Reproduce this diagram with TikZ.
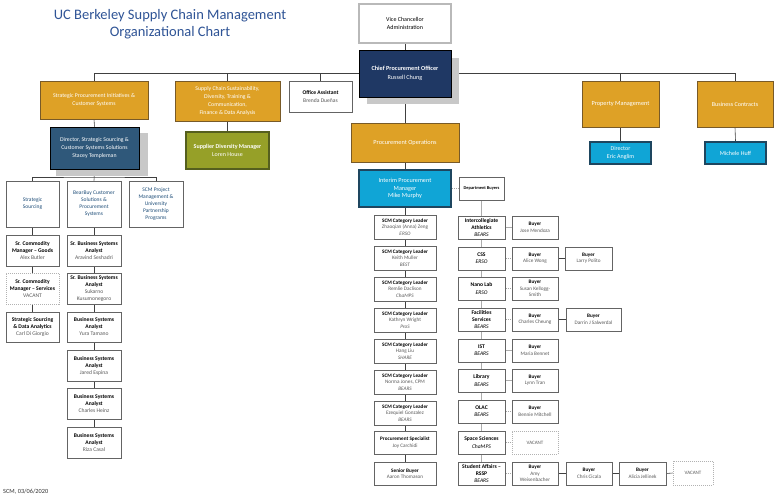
\documentclass[tikz,border=0pt]{standalone}
\usepackage{fontspec}
\setmainfont{Carlito}
\usetikzlibrary{backgrounds}
\definecolor{orangeF}{RGB}{222,161,38}
\definecolor{orangeD}{RGB}{120,90,40}
\definecolor{navyF}{RGB}{31,56,100}
\definecolor{steelF}{RGB}{47,88,122}
\definecolor{lblueF}{RGB}{16,165,214}
\definecolor{lblueD}{RGB}{30,70,95}
\definecolor{oliveF}{RGB}{150,160,40}
\definecolor{oliveD}{RGB}{85,95,30}
\definecolor{titleC}{RGB}{47,84,150}
\definecolor{tealT}{RGB}{31,78,121}
\definecolor{lineC}{RGB}{64,64,64}
\definecolor{boxD}{RGB}{100,100,100}
\definecolor{nameC}{RGB}{89,89,89}
\definecolor{shadowC}{RGB}{200,200,200}
\newcommand\bx[7]{\node[#6, minimum width={(#4-#2)*1pt}, minimum height={(#5-#3)*1pt}] (#1) at ({(#2+#4)/2},{(#3+#5)/2}) {#7};}
\newcommand\nm[1]{{\color{nameC}#1}}
\begin{document}
\begin{tikzpicture}[x=1pt,y=-1pt,
  base/.style={rectangle, inner sep=0pt, align=center},
  wbox/.style={base, draw=boxD, line width=0.7pt, fill=white, text=black, font=\fontsize{5.2}{6.4}\selectfont},
  vbox/.style={base, draw=gray!55, line width=1.6pt, fill=white, text=black, font=\fontsize{6}{8}\selectfont},
  obox/.style={base, draw=orangeD, line width=0.8pt, fill=orangeF, text=white, font=\fontsize{5.8}{8}\selectfont},
  nbox/.style={base, draw=black, line width=0.8pt, fill=navyF, text=white, font=\fontsize{6.2}{8.3}\selectfont},
  sbox/.style={base, draw=black, line width=0.8pt, fill=steelF, text=white, font=\fontsize{5.8}{7.6}\selectfont},
  lbox/.style={base, draw=lblueD, line width=1.6pt, fill=lblueF, text=white, font=\fontsize{6.2}{7.8}\selectfont},
  gbox/.style={base, draw=oliveD, line width=1.2pt, fill=oliveF, text=white, font=\fontsize{6}{8}\selectfont},
  tbox/.style={wbox, text=tealT, font=\fontsize{5.5}{7}\selectfont},
  lcbox/.style={wbox, font=\fontsize{5.6}{7}\selectfont},
  dbox/.style={wbox, font=\fontsize{5.6}{7.2}\selectfont},
  vacbox/.style={base, draw=gray!60, line width=0.7pt, dash pattern=on 1pt off 1pt, fill=white, text=nameC, font=\fontsize{5}{6.4}\selectfont},
  cline/.style={draw=lineC, line width=0.6pt},
  gline/.style={draw=gray!65, line width=0.6pt},
  dline/.style={draw=gray!70, line width=0.6pt, dash pattern=on 1.2pt off 1pt}]
\begin{scope}[on background layer]
\fill[white] (0,0) rectangle (775,500);
\end{scope}
\useasboundingbox (0,0) rectangle (775,500);
% title
\node[text=titleC, font=\fontsize{14.5}{17}\selectfont, align=center] (title) at (170,24) {UC Berkeley Supply Chain Management\\Organizational Chart};
\node[anchor=west, font=\fontsize{6.3}{7}\selectfont, text=black!80, inner sep=0pt] (foot) at (3,492) {SCM, 03/06/2020};
% top
\bx{vc}{359}{4}{451}{43}{vbox}{Vice Chancellor\\Administration}
\fill[shadowC] (367,58) rectangle (459,104);
\bx{cpo}{359}{50}{451}{97}{nbox}{\textbf{Chief Procurement Officer}\\Russell Chung}
\bx{spi}{40}{81}{148}{119}{obox}{Strategic Procurement Initiatives \&\\Customer Systems}
\bx{scs}{175}{81}{280}{121}{obox}{Supply Chain Sustainability,\\Diversity, Training \&\\Communication,\\Finance \& Data Analysis}
\bx{oa}{289}{81}{352}{112}{wbox,font=\fontsize{5.6}{7.4}\selectfont}{\textbf{Office Assistant}\\\nm{Brenda Dueñas}}
\bx{pm}{582}{81}{659}{127}{obox,font=\fontsize{6.3}{8}\selectfont}{Property Management}
\bx{bc}{697}{81}{773}{127}{obox,font=\fontsize{6.1}{8}\selectfont}{Business Contracts}
\bx{dea}{590}{142}{651}{164}{lbox,font=\fontsize{6}{7.4}\selectfont}{Director\\Eric Anglim}
\bx{mh}{705}{142}{766}{164}{lbox,font=\fontsize{6}{7.4}\selectfont}{Michele Huff}
\bx{po}{351}{123}{459}{162}{obox,font=\fontsize{6.3}{8}\selectfont}{Procurement Operations}
\bx{im}{359}{170}{451}{207}{lbox}{Interim Procurement\\Manager\\Mike Murphy}
\bx{db}{459}{177}{504}{200}{wbox,font=\fontsize{4.4}{5}\selectfont\bfseries}{Department Buyers}
% left branch
\fill[shadowC] (56,133) rectangle (148,176);
\bx{dir}{50}{127}{139}{169}{sbox}{Director, Strategic Sourcing \&\\Customer Systems Solutions\\Stacey Templeman}
\bx{sdm}{186}{132}{269}{169}{gbox}{\textbf{Supplier Diversity Manager}\\Loren House}
\bx{ss}{6}{181}{59}{227}{tbox}{Strategic\\Sourcing}
\bx{bb}{67}{181}{121}{227}{tbox}{BearBuy Customer\\Solutions \&\\Procurement\\Systems}
\bx{sp}{129}{181}{183}{227}{tbox}{SCM Project\\Management \&\\University\\Partnership\\Programs}
\bx{g1}{6}{235}{59}{266}{lcbox}{\textbf{Sr. Commodity}\\\textbf{Manager – Goods}\\\nm{Alex Butler}}
\bx{g2}{6}{273}{59}{304}{lcbox,draw=gray!60,dash pattern=on 1pt off 1pt}{\textbf{Sr. Commodity}\\\textbf{Manager – Services}\\\nm{VACANT}}
\bx{g3}{6}{312}{59}{342}{lcbox}{\textbf{Strategic Sourcing}\\\textbf{\& Data Analytics}\\\nm{Carl Di Giorgio}}
\bx{a1}{67}{235}{121}{266}{lcbox}{\textbf{Sr. Business Systems}\\\textbf{Analyst}\\\nm{Aravind Seshadri}}
\bx{a2}{67}{273}{121}{304}{lcbox}{\textbf{Sr. Business Systems}\\\textbf{Analyst}\\\nm{Sukarno}\\\nm{Kusumonegoro}}
\bx{a3}{67}{312}{121}{342}{lcbox}{\textbf{Business Systems}\\\textbf{Analyst}\\\nm{Yura Tamano}}
\bx{a4}{67}{350}{121}{381}{lcbox}{\textbf{Business Systems}\\\textbf{Analyst}\\\nm{Jared Espina}}
\bx{a5}{67}{388}{121}{419}{lcbox}{\textbf{Business Systems}\\\textbf{Analyst}\\\nm{Charles Heinz}}
\bx{a6}{67}{427}{121}{458}{lcbox}{\textbf{Business Systems}\\\textbf{Analyst}\\\nm{Riza Casal}}
% category leaders
\bx{l1}{374}{215}{436}{239}{wbox}{\textbf{SCM Category Leader}\\\nm{Zhaoqian (Anna) Zeng}\\\nm{\textit{ERSO}}}
\bx{l2}{374}{246}{436}{270}{wbox}{\textbf{SCM Category Leader}\\\nm{Keith Muller}\\\nm{\textit{BEST}}}
\bx{l3}{374}{277}{436}{301}{wbox}{\textbf{SCM Category Leader}\\\nm{Remlie Daclison}\\\nm{\textit{ChaMPS}}}
\bx{l4}{374}{308}{436}{332}{wbox}{\textbf{SCM Category Leader}\\\nm{Kathryn Wright}\\\nm{\textit{ProS}}}
\bx{l5}{374}{339}{436}{363}{wbox}{\textbf{SCM Category Leader}\\\nm{Hang Liu}\\\nm{\textit{SHARE}}}
\bx{l6}{374}{370}{436}{394}{wbox}{\textbf{SCM Category Leader}\\\nm{Norma Jones, CPM}\\\nm{\textit{BEARS}}}
\bx{l7}{374}{401}{436}{425}{wbox}{\textbf{SCM Category Leader}\\\nm{Ezequiel Gonzalez}\\\nm{\textit{BEARS}}}
\bx{l8}{374}{431}{436}{454}{wbox}{\textbf{Procurement Specialist}\\\nm{Joy Carchidi}}
\bx{l9}{374}{462}{436}{485}{wbox}{\textbf{Senior Buyer}\\\nm{Aaron Thomason}}
% departments
\bx{d1}{458}{216}{505}{239}{dbox}{\textbf{Intercollegiate}\\\textbf{Athletics}\\\textit{BEARS}}
\bx{d2}{458}{247}{505}{270}{dbox}{\textbf{CSS}\\\textit{ERSO}}
\bx{d3}{458}{277}{505}{300}{dbox}{\textbf{Nano Lab}\\\textit{ERSO}}
\bx{d4}{458}{308}{505}{331}{dbox}{\textbf{Facilities}\\\textbf{Services}\\\textit{BEARS}}
\bx{d5}{458}{339}{505}{362}{dbox}{\textbf{IST}\\\textit{BEARS}}
\bx{d6}{458}{369}{505}{392}{dbox}{\textbf{Library}\\\textit{BEARS}}
\bx{d7}{458}{400}{505}{423}{dbox}{\textbf{OLAC}\\\textit{BEARS}}
\bx{d8}{458}{431}{505}{454}{dbox}{\textbf{Space Sciences}\\\textit{ChaMPS}}
\bx{d9}{458}{462}{505}{485}{dbox}{\textbf{Student Affairs –}\\\textbf{RSSP}\\\textit{BEARS}}
% buyers
\bx{b1}{512}{216}{558}{239}{wbox}{\textbf{Buyer}\\\nm{Jose Mendoza}}
\bx{b2}{512}{247}{558}{270}{wbox}{\textbf{Buyer}\\\nm{Alice Wong}}
\bx{c2}{565}{247}{612}{270}{wbox}{\textbf{Buyer}\\\nm{Larry Polito}}
\bx{b3}{512}{277}{558}{300}{wbox}{\textbf{Buyer}\\\nm{Susan Kellogg-}\\\nm{Smith}}
\bx{b4}{512}{308}{558}{331}{wbox}{\textbf{Buyer}\\\nm{Charles Cheung}}
\bx{c4}{566}{308}{621}{331}{wbox}{\textbf{Buyer}\\\nm{Darrin J Salwerdal}}
\bx{b5}{512}{339}{558}{362}{wbox}{\textbf{Buyer}\\\nm{Maria Bennet}}
\bx{b6}{512}{369}{558}{392}{wbox}{\textbf{Buyer}\\\nm{Lynn Tran}}
\bx{b7}{512}{400}{558}{423}{wbox}{\textbf{Buyer}\\\nm{Bennie Mitchell}}
\bx{b8}{512}{431}{558}{454}{vacbox}{VACANT}
\bx{b9}{512}{462}{558}{485}{wbox}{\textbf{Buyer}\\\nm{Amy}\\\nm{Weisenbacher}}
\bx{s2}{566}{462}{612}{485}{wbox}{\textbf{Buyer}\\\nm{Chris Cicala}}
\bx{s3}{619}{462}{666}{485}{wbox}{\textbf{Buyer}\\\nm{Alicia Jellinek}}
\bx{s4}{673}{461}{713}{485}{vacbox}{VACANT}
% connectors
\begin{scope}[on background layer]
\draw[cline] (vc.south) -- (cpo.north);
\draw[cline] (cpo.south) -- (po.north);
\draw[cline] (po.south) -- (im.north);
\draw[cline] (spi.north) |- (cpo.west);
\draw[cline] (scs.north) -- (scs.north |- cpo.west);
\draw[cline] (oa.north) -- (oa.north |- cpo.west);
\draw[cline] (cpo.east) -| (bc.north);
\draw[cline] (pm.north) -- (pm.north |- cpo.east);
\draw[cline] (pm.south) -- (dea.north);
\draw[cline] (bc.south) -- (mh.north);
\draw[cline] (spi.south) -- (dir.north);
\draw[cline] (scs.south) -- (sdm.north);
\coordinate (dbus) at (94,177);
\draw[cline] (dir.south) -- (bb.north);
\draw[cline] (ss.north) |- (dbus) -| (sp.north);
\draw[cline] (ss.south) -- (g3.north);
\draw[cline] (bb.south) -- (a6.north);
\draw[cline] (im.south) -- (l9.north);
\draw[dline] (im.east) -- (db.west);
\draw[gline] (db.south) -- (d9.north);
\draw[gline] (d1.east) -- (b1.west);
\draw[dline] (d2.east) -- (b2.west);
\draw[cline] (b2.east) -- (c2.west);
\draw[dline] (d3.east) -- (b3.west);
\draw[dline] (d4.east) -- (b4.west);
\draw[cline] (b4.east) -- (c4.west);
\draw[gline] (d5.east) -- (b5.west);
\draw[gline] (d6.east) -- (b6.west);
\draw[dline] (d7.east) -- (b7.west);
\draw[dline] (d8.east) -- (b8.west);
\draw[dline] (d9.east) -- (b9.west);
\draw[cline] (b9.east) -- (s2.west);
\draw[cline] (s2.east) -- (s3.west);
\draw[cline] (s3.east) -- (s4.west);
\end{scope}
\end{tikzpicture}
\end{document}
